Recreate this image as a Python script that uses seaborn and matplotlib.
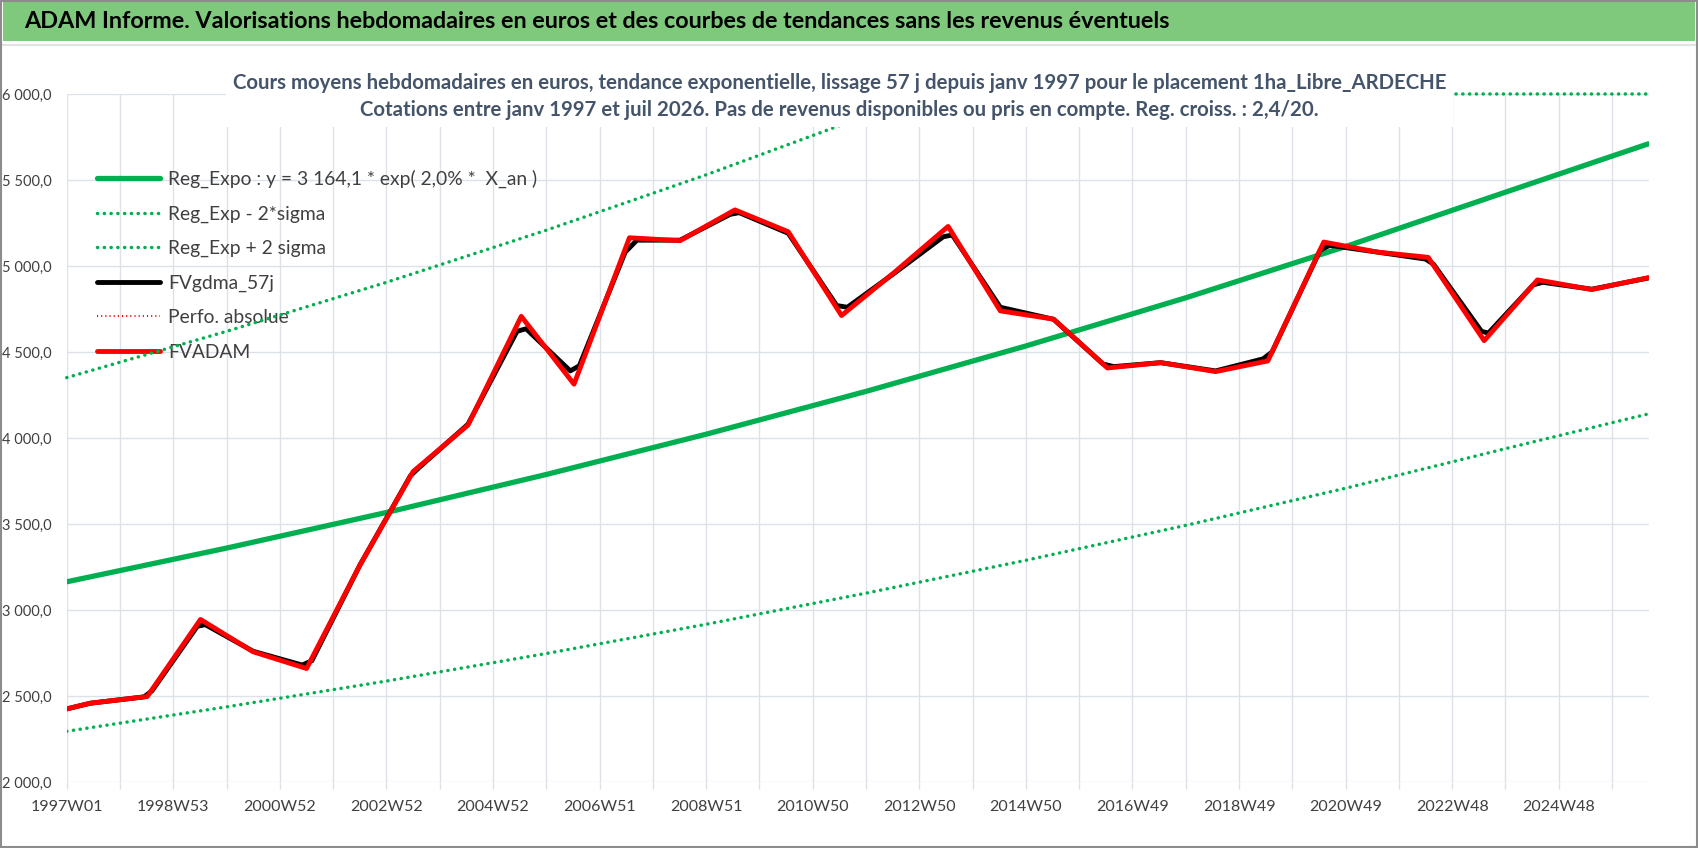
import pandas as pd
import seaborn as sns
import matplotlib.pyplot as plt
from matplotlib.patches import Rectangle
from matplotlib.lines import Line2D

# FVADAM: weekly valuation, knots (decimal year, euros)
adam_years = [1997.00, 1997.44, 1998.51, 1999.51, 2000.50, 2001.50, 2002.50, 2003.50,
              2004.53, 2005.53, 2006.52, 2007.56, 2008.51, 2009.54, 2010.54, 2011.54,
              2012.54, 2013.54, 2014.52, 2015.52, 2016.53, 2017.53, 2018.56, 2019.54,
              2020.59, 2021.59, 2022.55, 2023.60, 2024.60, 2025.62, 2026.68]
adam_values = [2425, 2458, 2497, 2945, 2757, 2660, 3260, 3805,
               4075, 4707, 4313, 5164, 5147, 5326, 5199, 4712,
               4965, 5230, 4739, 4691, 4407, 4438, 4386, 4448,
               5139, 5081, 5050, 4566, 4919, 4863, 4932]

# FVgdma_57j: smoothed curve, rounded at the corners
gdma_years = [1997.00, 1997.44, 1998.45, 1998.60, 1999.45, 1999.60, 2000.50, 2001.42,
              2001.60, 2002.50, 2003.45, 2003.62, 2004.53, 2005.45, 2005.62, 2006.45,
              2006.62, 2007.48, 2007.70, 2008.51, 2009.45, 2009.62, 2010.54, 2011.45,
              2011.65, 2012.54, 2013.45, 2013.62, 2014.52, 2015.52, 2016.45, 2016.65,
              2017.53, 2018.56, 2019.45, 2019.62, 2020.52, 2020.70, 2021.59, 2022.50,
              2022.65, 2023.55, 2023.68, 2024.52, 2024.70, 2025.62, 2026.68]
gdma_values = [2425, 2458, 2495, 2530, 2905, 2915, 2760, 2680,
               2705, 3260, 3780, 3830, 4080, 4620, 4635, 4390,
               4420, 5080, 5150, 5150, 5300, 5310, 5190, 4770,
               4760, 4960, 5170, 5180, 4760, 4690, 4430, 4415,
               4438, 4390, 4460, 4500, 5090, 5120, 5081, 5040,
               5010, 4620, 4610, 4890, 4905, 4865, 4930]

# exponential trend and +/- 2 sigma bands
trend_years = [1997, 2000, 2003, 2006, 2009, 2012, 2015, 2018, 2021, 2024, 2026.68]
reg_expo = [3164, 3360, 3567, 3788, 4022, 4271, 4535, 4815, 5113, 5429, 5710]
reg_low = [2295, 2437, 2587, 2747, 2917, 3098, 3289, 3492, 3708, 3938, 4140]
# upper band leaves the axis around 2013 and is pinned to the 6000 max
up_years = [1997, 2000, 2003, 2006, 2009, 2012, 2013.06, 2026.68]
reg_up = [4351, 4620, 4905, 5208, 5530, 5873, 6000, 6000]

tick_labels = ['1997W01', '1998W53', '2000W52', '2002W52', '2004W52', '2006W51',
               '2008W51', '2010W50', '2012W50', '2014W50', '2016W49', '2018W49',
               '2020W49', '2022W48', '2024W48']


def weeks(years):
    # category index since 1997W01, 52 categories per year
    return [(y - 1997) * 52 for y in years]


def frame(years, values):
    return pd.DataFrame({'semaine': weeks(years), 'valeur': values})


sns.set_theme(style='white')
plt.rcParams['font.family'] = ['Lato', 'DejaVu Sans']

GREEN = '#00b050'
GRID = '#dde1e8'
TXT = '#404040'

fig = plt.figure(figsize=(16.98, 8.48), dpi=100)
ax = fig.add_axes([0.0393, 0.0778, 0.9318, 0.8114])

dot_green = dict(color=GREEN, lw=2.5, linestyle=(0, (0.05, 1.9)), dash_capstyle='round')

sns.lineplot(data=frame(up_years, reg_up), x='semaine', y='valeur', ax=ax,
             estimator=None, sort=False, clip_on=False, **dot_green)
sns.lineplot(data=frame(trend_years, reg_low), x='semaine', y='valeur', ax=ax,
             estimator=None, sort=False, **dot_green)
sns.lineplot(data=frame(trend_years, reg_expo), x='semaine', y='valeur', ax=ax,
             estimator=None, sort=False, color=GREEN, lw=3.8)
sns.lineplot(data=frame(gdma_years, gdma_values), x='semaine', y='valeur', ax=ax,
             estimator=None, sort=False, color='black', lw=3.5)
sns.lineplot(data=frame(adam_years, adam_values), x='semaine', y='valeur', ax=ax,
             estimator=None, sort=False, color='red', lw=1.5,
             linestyle=(0, (0.5, 1.5)))
sns.lineplot(data=frame(adam_years, adam_values), x='semaine', y='valeur', ax=ax,
             estimator=None, sort=False, color='red', lw=3.5)

ax.set_xlim(0, 1544)
ax.set_ylim(2000, 6000)
ax.set_xlabel('')
ax.set_ylabel('')
for s in ax.spines.values():
    s.set_visible(False)

xt = list(range(0, 1544, 52))
ax.set_xticks(xt)
ax.set_xticklabels([tick_labels[i // 2] if i % 2 == 0 else '' for i in range(len(xt))])
yt = list(range(2000, 6001, 500))
ax.set_yticks(yt)
ax.set_yticklabels([f'{v:,.1f}'.replace(',', ' ').replace('.', ',') for v in yt])
ax.grid(True, color=GRID, lw=1.0)
ax.set_axisbelow(True)
ax.tick_params(axis='x', length=5, width=1.0, color=GRID, pad=8, labelsize=11.5,
               labelcolor=TXT, bottom=True)
ax.tick_params(axis='y', length=0, pad=11, labelsize=10.5, labelcolor=TXT)

handles = [
    Line2D([], [], color=GREEN, lw=3.8),
    Line2D([], [], **dot_green),
    Line2D([], [], **dot_green),
    Line2D([], [], color='black', lw=3.5),
    Line2D([], [], color='red', lw=1.5, linestyle=(0, (0.5, 1.5))),
    Line2D([], [], color='red', lw=3.5),
]
labels = ['Reg_Expo : y = 3 164,1 * exp( 2,0% *  X_an )', 'Reg_Exp - 2*sigma',
          'Reg_Exp + 2 sigma', 'FVgdma_57j', 'Perfo. absolue', 'FVADAM']
leg = ax.legend(handles, labels, loc='upper left', bbox_to_anchor=(0.057, 0.800),
                bbox_transform=fig.transFigure, frameon=False, fontsize=13.9,
                handlelength=3.3, handletextpad=0.4, labelspacing=0.9,
                borderpad=0, borderaxespad=0, labelcolor=TXT)
leg.set_zorder(1)

# chart title block, white background hides the lines behind it
fig.text(0.4945, 0.886,
         'Cours moyens hebdomadaires en euros, tendance exponentielle, lissage 57 j depuis janv 1997 '
         'pour le placement 1ha_Libre_ARDECHE\n'
         'Cotations entre janv 1997 et juil 2026. Pas de revenus disponibles ou pris en compte. '
         'Reg. croiss. : 2,4/20.',
         ha='center', va='center', ma='center', fontsize=14.7, fontweight='bold',
         color='#44546a', linespacing=1.42,
         bbox=dict(facecolor='white', edgecolor='none', pad=5))

# green banner on top
fig.patches.append(Rectangle((0.0015, 1 - 41 / 848), 0.997, 39 / 848,
                             transform=fig.transFigure, facecolor='#7fc97c',
                             edgecolor='none', zorder=0))
fig.text(0.0141, 1 - 21 / 848,
         'ADAM Informe. Valorisations hebdomadaires en euros et des courbes de tendances '
         'sans les revenus éventuels',
         ha='left', va='center', fontsize=16.8, fontweight='bold', color='black')
fig.lines.append(Line2D([0, 1], [1 - 45 / 848, 1 - 45 / 848], transform=fig.transFigure,
                        color='#e3e3e3', lw=1.5))
fig.patches.append(Rectangle((0.0005, 0.001), 0.999, 0.998, transform=fig.transFigure,
                             facecolor='none', edgecolor='#8c8c8c', lw=1.5, zorder=5))

fig.savefig('out.png', dpi=100)
